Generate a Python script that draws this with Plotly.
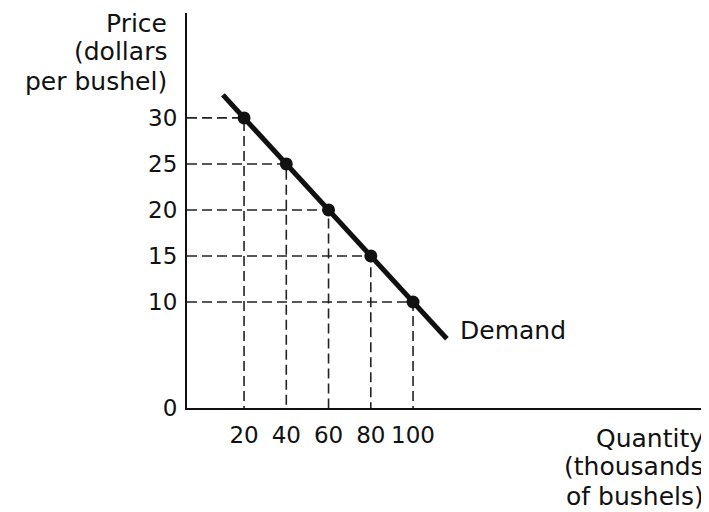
import plotly.graph_objects as go

# Data
quantity = [20, 40, 60, 80, 100]          # thousands of bushels
price = [30, 25, 20, 15, 10]              # dollars per bushel
demand_line_q = [10, 116]                 # extent of drawn demand curve
demand_line_p = [32.5, 6]
x_tick_labels = ["20", "40", "60", "80", "100"]
y_tick_labels = ["10", "15", "20", "25", "30"]
y_title_lines = ["Price", "(dollars", "per bushel)"]
x_title_lines = ["Quantity", "(thousands", "of bushels)"]

# axis ranges (textbook-style: origin drawn with a small break)
X_MIN, X_MAX = -7.0, 238.2
Y_MIN, Y_MAX = -1.52, 41.4

FONT = "DejaVu Sans"
INK = "#111111"
TXT = 25
TICK = 23

# page pixel -> paper coordinate helpers (plot area: x 187..705, y 13..408)
def px_x(px):
    return (px - 187) / 518.0

def px_y(py):
    return (408 - py) / 395.0

fig = go.Figure()

# dashed guide lines
gx, gy = [], []
for q, p in zip(quantity, price):
    gx += [X_MIN, q, q, None]
    gy += [p, p, Y_MIN, None]
fig.add_trace(go.Scatter(x=gx, y=gy, mode="lines",
                         line=dict(color="#222222", width=1.6, dash="10px,5px"),
                         hoverinfo="skip", showlegend=False))

# demand curve
fig.add_trace(go.Scatter(x=demand_line_q, y=demand_line_p, mode="lines",
                         line=dict(color=INK, width=5), showlegend=False))
# points
fig.add_trace(go.Scatter(x=quantity, y=price, mode="markers",
                         marker=dict(color=INK, size=13), showlegend=False))

fig.add_annotation(x=demand_line_q[1], y=demand_line_p[1], xref="x", yref="y",
                   text="Demand", showarrow=False, xanchor="left", yanchor="middle",
                   xshift=11, yshift=8, font=dict(family=FONT, size=TXT, color=INK))

for line, py in zip(y_title_lines, [23, 52, 81]):
    fig.add_annotation(x=px_x(168), y=px_y(py), xref="paper", yref="paper",
                       text=line, showarrow=False, xanchor="right", yanchor="middle",
                       borderpad=0, font=dict(family=FONT, size=TXT, color=INK))
for line, py in zip(x_title_lines, [438, 467, 496]):
    fig.add_annotation(x=px_x(705), y=px_y(py), xref="paper", yref="paper",
                       text=line, showarrow=False, xanchor="right", yanchor="middle",
                       borderpad=0, font=dict(family=FONT, size=TXT, color=INK))

fig.update_layout(
    width=701, height=504, autosize=False,
    margin=dict(l=179, r=4, t=5, b=104),
    paper_bgcolor="white", plot_bgcolor="white",
    font=dict(family=FONT, size=TICK, color=INK),
    xaxis=dict(range=[X_MIN, X_MAX], showgrid=False, zeroline=False,
               showline=True, linecolor=INK, linewidth=2,
               tickvals=quantity, ticktext=x_tick_labels, ticks="",
               tickfont=dict(family=FONT, size=TICK, color=INK),
               ticklabelstandoff=5, fixedrange=True),
    yaxis=dict(range=[Y_MIN, Y_MAX], showgrid=False, zeroline=False,
               showline=True, linecolor=INK, linewidth=2,
               tickvals=[Y_MIN] + price[::-1], ticktext=["0"] + y_tick_labels,
               tickfont=dict(family=FONT, size=TICK, color=INK),
               ticks="", ticklabelstandoff=3, fixedrange=True),
)

fig.write_html("out.html")
